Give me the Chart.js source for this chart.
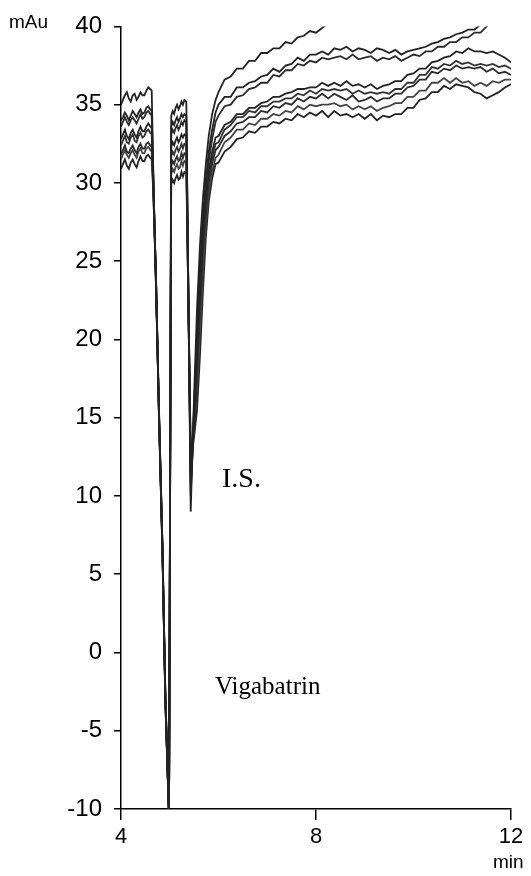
<!DOCTYPE html>
<html>
<head>
<meta charset="utf-8">
<script src="https://cdn.jsdelivr.net/npm/chart.js@4.4.1/dist/chart.umd.min.js"></script>
<style>
  html, body { margin: 0; padding: 0; background: #fff; }
  canvas { display: block; }
</style>
</head>
<body>
<canvas id="myChart" width="531" height="876"></canvas>
<script>
// retention time (min)
const times = [
  4.00, 4.04, 4.08, 4.12, 4.16, 4.20, 4.24, 4.28, 4.32, 4.36, 4.40, 4.44, 4.48, 4.52, 4.56, 4.60, 4.63,
  4.66, 4.72, 4.78, 4.85, 4.91, 4.985,
  5.03, 5.06, 5.09, 5.12, 5.15, 5.18, 5.21, 5.24, 5.27, 5.30, 5.34,
  5.43, 5.50, 5.56, 5.62, 5.68, 5.74, 5.80, 5.87, 5.94,
  6.000, 6.125, 6.250, 6.375, 6.500, 6.625, 6.750, 6.875,
  7.000, 7.125, 7.250, 7.375, 7.500, 7.625, 7.750, 7.875,
  8.000, 8.125, 8.250, 8.375, 8.500, 8.625, 8.750, 8.875,
  9.000, 9.125, 9.250, 9.375, 9.500, 9.625, 9.750, 9.875,
  10.000, 10.125, 10.250, 10.375, 10.500, 10.625, 10.750, 10.875,
  11.000, 11.125, 11.250, 11.375, 11.500, 11.625, 11.750, 11.875,
  12.000
];

// absorbance (mAu), one array per injection
const runA = [
  35.0, 35.3, 35.6, 35.8, 35.4, 35.2, 35.6, 35.7, 35.3, 35.5, 35.8, 35.6, 35.6, 35.9, 36.1, 36.0, 35.9,
  31.0, 23.0, 15.2, 6.8, -2.5, -10.5,
  34.3, 34.6, 34.4, 34.8, 35.0, 34.7, 34.9, 35.2, 35.0, 35.3, 35.2,
  9.0, 16.5, 22.0, 26.0, 29.0, 31.2, 33.0, 34.4, 35.3,
  35.8, 36.6, 36.8, 37.3, 37.3, 37.8, 37.8, 38.3,
  38.3, 38.6, 38.6, 39.0, 38.9, 39.3, 39.4, 39.7,
  39.6, 39.9, 40.2, 40.5, null, null, null, null,
  null, null, null, null, null, null, null, null,
  null, null, null, null, null, null, null, null,
  null, null, null, null, null, null, null, null,
  null
];
const runB = [
  34.0, 34.2, 34.5, 34.3, 34.0, 34.3, 34.6, 34.4, 34.2, 34.5, 34.7, 34.4, 34.5, 34.8, 34.9, 34.7, 34.6,
  30.5, 23.5, 15.0, 6.5, -3.0, -10.5,
  33.6, 33.9, 33.7, 34.0, 34.2, 33.9, 34.1, 34.4, 34.2, 34.4, 34.3,
  10.0, 15.5, 20.5, 24.5, 27.8, 30.2, 32.0, 33.4, 34.5,
  35.0, 35.5, 35.5, 36.1, 36.1, 36.4, 36.5, 36.8,
  36.9, 37.3, 37.1, 37.5, 37.6, 38.0, 37.8, 38.2,
  38.2, 38.4, 38.2, 38.6, 38.5, 38.7, 38.4, 38.6,
  38.5, 38.3, 38.6, 38.5, 38.3, 38.5, 38.2, 38.4,
  38.5, 38.6, 38.7, 38.9, 39.0, 39.2, 39.3, 39.5,
  39.6, 39.8, 39.8, 40.1, 40.4, null, null, null,
  null
];
const runC = [
  33.6, 33.9, 34.2, 33.9, 33.7, 34.0, 34.2, 34.0, 33.8, 34.1, 34.4, 34.1, 34.2, 34.5, 34.6, 34.4, 34.3,
  30.8, 23.2, 15.5, 7.0, -2.8, -10.5,
  33.1, 33.4, 33.2, 33.5, 33.7, 33.4, 33.6, 33.9, 33.7, 34.0, 33.9,
  11.0, 15.8, 20.0, 24.0, 27.2, 29.6, 31.4, 32.8, 33.9,
  34.3, 34.9, 35.0, 35.5, 35.6, 36.0, 36.1, 36.4,
  36.4, 36.9, 36.8, 37.2, 37.2, 37.6, 37.5, 37.8,
  37.7, 38.0, 37.9, 38.0, 38.1, 37.9, 38.2, 37.9,
  38.0, 38.1, 37.8, 38.0, 37.9, 38.1, 37.8, 38.0,
  38.2, 38.1, 38.4, 38.4, 38.7, 38.7, 39.0, 39.0,
  39.3, 39.3, 39.6, 39.6, 40.0, 40.3, null, null,
  null
];
const runD = [
  32.8, 33.1, 33.4, 33.0, 32.8, 33.2, 33.4, 33.1, 32.9, 33.3, 33.6, 33.3, 33.3, 33.6, 33.8, 33.6, 33.5,
  30.2, 23.8, 14.8, 6.3, -3.2, -10.5,
  32.3, 32.6, 32.4, 32.7, 32.9, 32.6, 32.8, 33.1, 32.9, 33.1, 33.0,
  12.0, 15.0, 19.0, 23.0, 26.5, 29.0, 30.8, 32.0, 32.9,
  33.0, 33.7, 33.9, 34.4, 34.4, 34.8, 34.8, 35.1,
  35.2, 35.5, 35.5, 35.7, 35.8, 36.0, 36.0, 36.1,
  36.1, 36.4, 36.2, 36.4, 36.2, 36.5, 36.2, 36.3,
  36.1, 36.3, 36.0, 36.2, 36.3, 36.5, 36.5, 36.9,
  37.0, 37.3, 37.3, 37.7, 37.8, 38.0, 38.1, 38.4,
  38.3, 38.6, 38.4, 38.4, 38.3, 38.4, 38.2, 38.0,
  37.7
];
const runE = [
  32.4, 32.7, 33.0, 32.6, 32.5, 32.9, 33.1, 32.7, 32.6, 33.0, 33.2, 32.9, 33.0, 33.3, 33.4, 33.2, 33.1,
  30.5, 23.4, 15.3, 6.6, -2.6, -10.5,
  31.7, 32.0, 31.8, 32.1, 32.3, 32.0, 32.2, 32.5, 32.2, 32.5, 32.4,
  10.5, 14.5, 18.6, 22.5, 26.0, 28.5, 30.3, 31.6, 32.5,
  32.6, 33.4, 33.7, 34.2, 34.2, 34.6, 34.5, 34.9,
  34.9, 35.2, 35.2, 35.4, 35.4, 35.7, 35.6, 35.9,
  35.7, 36.0, 35.9, 36.0, 35.9, 36.0, 35.7, 35.9,
  35.7, 35.8, 35.7, 35.8, 35.7, 36.0, 36.0, 36.4,
  36.4, 36.9, 36.9, 37.4, 37.3, 37.6, 37.5, 37.8,
  37.6, 37.7, 37.5, 37.6, 37.5, 37.6, 37.4, 37.5,
  37.3
];
const runF = [
  31.8, 32.1, 32.4, 32.0, 31.9, 32.2, 32.4, 32.1, 31.9, 32.3, 32.5, 32.2, 32.2, 32.5, 32.6, 32.4, 32.3,
  29.8, 23.6, 14.9, 6.9, -3.1, -10.5,
  31.1, 31.4, 31.2, 31.5, 31.7, 31.4, 31.5, 31.9, 31.6, 31.9, 31.8,
  11.5, 14.0, 18.0, 22.0, 25.5, 28.2, 30.0, 31.2, 32.1,
  32.3, 33.0, 33.3, 33.8, 33.9, 34.2, 34.2, 34.6,
  34.5, 34.9, 34.8, 35.1, 35.0, 35.4, 35.2, 35.5,
  35.4, 35.7, 35.4, 35.7, 35.5, 35.3, 35.6, 35.2,
  35.3, 35.5, 35.2, 35.4, 35.4, 35.7, 35.7, 36.1,
  36.2, 36.6, 36.6, 37.1, 37.0, 37.3, 37.2, 37.5,
  37.3, 37.4, 37.3, 37.4, 37.1, 37.3, 37.0, 37.1,
  36.9
];
const runG = [
  31.5, 31.8, 32.1, 31.8, 31.6, 31.9, 32.1, 31.8, 31.6, 32.0, 32.2, 31.9, 31.9, 32.2, 32.3, 32.1, 32.0,
  30.0, 23.1, 15.1, 6.4, -2.9, -10.5,
  30.6, 30.9, 30.7, 31.0, 31.2, 30.9, 31.0, 31.4, 31.1, 31.4, 31.3,
  12.5, 14.4, 16.8, 20.5, 24.2, 27.3, 29.4, 30.7, 31.6,
  31.8, 32.6, 32.9, 33.4, 33.4, 33.8, 33.7, 34.1,
  34.1, 34.4, 34.3, 34.6, 34.5, 34.9, 34.7, 35.0,
  34.9, 35.0, 35.0, 35.1, 34.9, 35.0, 34.7, 34.9,
  34.7, 34.9, 34.6, 34.8, 34.9, 35.1, 35.1, 35.5,
  35.5, 35.9, 35.9, 36.4, 36.4, 36.7, 36.4, 36.7,
  36.4, 36.5, 36.2, 36.4, 36.2, 36.5, 36.4, 36.6,
  36.6
];
const runH = [
  30.9, 31.2, 31.5, 31.1, 30.9, 31.3, 31.5, 31.2, 31.0, 31.4, 31.7, 31.4, 31.4, 31.7, 31.8, 31.6, 31.5,
  29.6, 23.7, 15.4, 6.7, -3.3, -10.5,
  29.9, 30.2, 30.0, 30.3, 30.5, 30.2, 30.3, 30.7, 30.4, 30.7, 30.6,
  13.0, 13.8, 15.5, 19.0, 23.0, 26.5, 28.8, 30.3, 31.2,
  31.3, 32.0, 32.3, 32.8, 32.9, 33.3, 33.2, 33.6,
  33.6, 33.9, 33.8, 34.1, 34.0, 34.4, 34.2, 34.5,
  34.3, 34.6, 34.2, 34.6, 34.3, 34.4, 34.2, 34.4,
  34.1, 34.4, 34.0, 34.3, 34.2, 34.4, 34.4, 34.8,
  34.8, 35.3, 35.4, 35.8, 35.8, 36.2, 36.0, 36.3,
  36.2, 36.1, 35.8, 35.7, 35.4, 35.6, 35.8, 36.1,
  36.3
];

const runs = [runA, runB, runC, runD, runE, runF, runG, runH];
const runColors = ['#222222', '#222222', '#2b2b2b', '#222222', '#333333', '#2b2b2b', '#444444', '#222222'];

const yTicks = [-10, -5, 0, 5, 10, 15, 20, 25, 30, 35, 40];
const xTicks = [4, 8, 12];

const labelsPlugin = {
    id: 'labels',
    afterDraw(chart) {
        const ctx = chart.ctx;
        ctx.save();
        ctx.fillStyle = '#000';
        ctx.textBaseline = 'alphabetic';
        ctx.textAlign = 'left';
        ctx.font = '19px "Liberation Sans", Arial, sans-serif';
        ctx.fillText('mAu', 9, 28);
        ctx.fillText('min', 493, 868);
        ctx.font = '28px "Liberation Serif", "Times New Roman", serif';
        ctx.fillText('I.S.', 222, 487);
        ctx.font = '25px "Liberation Serif", "Times New Roman", serif';
        ctx.fillText('Vigabatrin', 215, 694);
        ctx.restore();
    }
};

new Chart(document.getElementById('myChart'), {
    type: 'line',
    data: {
        datasets: runs.map((run, i) => ({
            data: times.map((t, j) => ({ x: t, y: run[j] })),
            borderColor: runColors[i],
            borderWidth: 1.8,
            pointRadius: 0,
            tension: 0,
            spanGaps: false,
            fill: false,
        }))
    },
    options: {
        responsive: false,
        animation: false,
        layout: { padding: { top: 24, right: 20, left: 0, bottom: 0 } },
        scales: {
            x: {
                type: 'linear',
                min: 4,
                max: 12,
                afterBuildTicks: s => { s.ticks = xTicks.map(v => ({ value: v })); },
                afterFit: s => { s.height = 67; },
                ticks: {
                    color: '#000',
                    padding: 4,
                    font: { family: '"Liberation Sans", Arial, sans-serif', size: 22 },
                },
                grid: { drawOnChartArea: false, drawTicks: true, tickLength: 11, color: '#000', lineWidth: 1.5 },
                border: { display: true, color: '#000', width: 1.5 },
            },
            y: {
                min: -10,
                max: 40,
                afterBuildTicks: s => { s.ticks = yTicks.map(v => ({ value: v })); },
                afterFit: s => { s.width = 121; },
                ticks: {
                    color: '#000',
                    padding: 12,
                    font: { family: '"Liberation Sans", Arial, sans-serif', size: 24 },
                },
                grid: { drawOnChartArea: false, drawTicks: true, tickLength: 7, color: '#000', lineWidth: 1.5 },
                border: { display: true, color: '#000', width: 1.5 },
            },
        },
        plugins: {
            legend: { display: false },
            tooltip: { enabled: false },
        },
    },
    plugins: [labelsPlugin],
});
</script>
</body>
</html>
